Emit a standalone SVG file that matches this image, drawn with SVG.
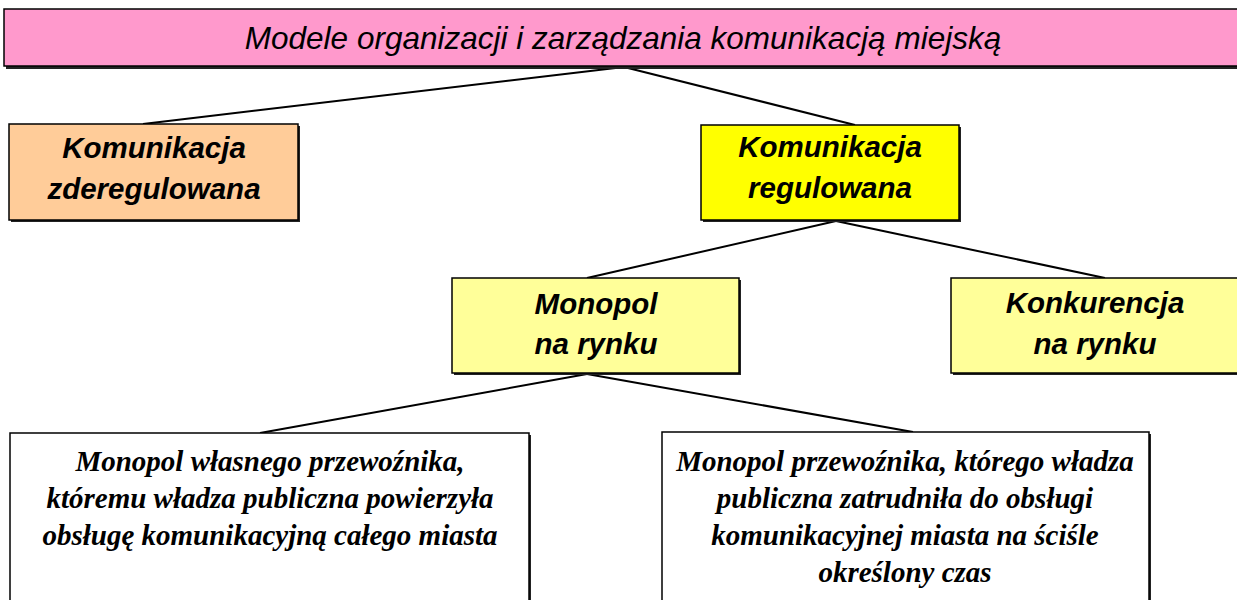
<svg xmlns="http://www.w3.org/2000/svg" width="1237" height="600" viewBox="0 0 1237 600">
<style>
.box{stroke:#000;stroke-width:1.5}
.sh{fill:#222}
.t1{font-family:"Liberation Sans",Arial,sans-serif;font-style:italic;font-size:31.5px;fill:#000;text-anchor:middle}
.t2{font-family:"Liberation Sans",Arial,sans-serif;font-style:italic;font-weight:bold;font-size:29.5px;fill:#000;text-anchor:middle}
.t3{font-family:"Liberation Serif","Times New Roman",serif;font-style:italic;font-weight:bold;font-size:29px;fill:#000;text-anchor:middle}
.c{stroke:#000;stroke-width:2;fill:none}
</style>
<rect width="1237" height="600" fill="#fff"/>
<g id="connectors">
<line class="c" x1="624" y1="67" x2="143" y2="124"/>
<line class="c" x1="624" y1="67" x2="855" y2="125"/>
<line class="c" x1="836" y1="221" x2="587" y2="278"/>
<line class="c" x1="836" y1="221" x2="1105" y2="278"/>
<line class="c" x1="587" y1="374" x2="260" y2="433"/>
<line class="c" x1="587" y1="374" x2="913" y2="432"/>
</g>
<g id="root">
<rect class="sh" x="6" y="11" width="1240" height="58"/>
<rect class="box" x="4" y="9" width="1240" height="57" fill="#FF99CC"/>
<text class="t1" x="623" y="49">Modele organizacji i zarządzania komunikacją miejską</text>
</g>
<g id="deregulated">
<rect class="sh" x="11" y="126" width="289" height="96"/>
<rect class="box" x="9" y="124" width="289" height="96" fill="#FFCC99"/>
<text class="t2" x="154" y="158">Komunikacja</text>
<text class="t2" x="154" y="199">zderegulowana</text>
</g>
<g id="regulated">
<rect class="sh" x="703" y="127" width="258" height="95"/>
<rect class="box" x="701" y="125" width="258" height="95" fill="#FFFF00"/>
<text class="t2" x="830" y="157">Komunikacja</text>
<text class="t2" x="830" y="198">regulowana</text>
</g>
<g id="monopoly">
<rect class="sh" x="454" y="280" width="287" height="95"/>
<rect class="box" x="452" y="278" width="287" height="95" fill="#FFFF99"/>
<text class="t2" x="596" y="314">Monopol</text>
<text class="t2" x="596" y="354">na rynku</text>
</g>
<g id="competition">
<rect class="sh" x="953" y="280" width="290" height="95"/>
<rect class="box" x="951" y="278" width="290" height="95" fill="#FFFF99"/>
<text class="t2" x="1095" y="313">Konkurencja</text>
<text class="t2" x="1095" y="354">na rynku</text>
</g>
<g id="own-operator">
<rect class="sh" x="12" y="435" width="519" height="180"/>
<rect class="box" x="10" y="433" width="519" height="180" fill="#FFFFFF"/>
<text class="t3" x="270" y="471">Monopol własnego przewoźnika,</text>
<text class="t3" x="270" y="508">któremu władza publiczna powierzyła</text>
<text class="t3" x="270" y="545">obsługę komunikacyjną całego miasta</text>
</g>
<g id="hired-operator">
<rect class="sh" x="664" y="434" width="487" height="180"/>
<rect class="box" x="662" y="432" width="487" height="180" fill="#FFFFFF"/>
<text class="t3" x="905" y="471">Monopol przewoźnika, którego władza</text>
<text class="t3" x="905" y="508">publiczna zatrudniła do obsługi</text>
<text class="t3" x="905" y="545">komunikacyjnej miasta na ściśle</text>
<text class="t3" x="905" y="582">określony czas</text>
</g>
</svg>
